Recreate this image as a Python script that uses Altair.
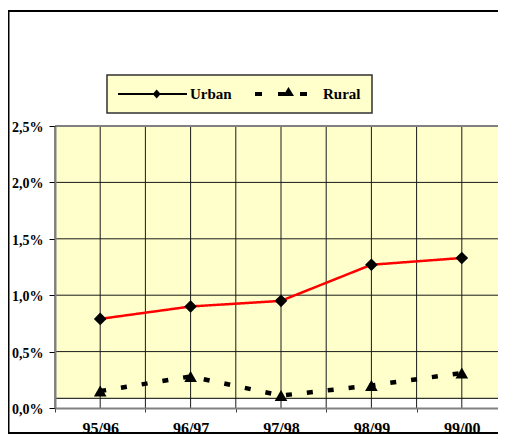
import altair as alt
import pandas as pd

# ---- data ----
periods = ["95/96", "96/97", "97/98", "98/99", "99/00"]
urban = [0.0079, 0.0090, 0.0095, 0.0127, 0.0133]
rural = [0.0015, 0.0028, 0.0011, 0.0020, 0.0031]
series_names = ["Urban", "Rural"]
y_ticks = [0.0, 0.005, 0.010, 0.015, 0.020, 0.025]

df = pd.DataFrame({
    "period": periods * 2,
    "series": [series_names[0]] * len(periods) + [series_names[1]] * len(periods),
    "value": urban + rural,
})
grid_df = pd.DataFrame({"v": y_ticks[1:-1]})
cat_df = pd.DataFrame({"period": periods})

Y_MAX = y_ticks[-1]
FLOOR = 0.00086  # bottom edge of the yellow plot area (Excel artefact)
band_df = pd.DataFrame({"lo": [FLOOR], "hi": [Y_MAX]})
one_df = pd.DataFrame({"a": [0]})

YELLOW = "#FFFFCC"
FONT = "Liberation Serif"
GRID = "#1a1a1a"
PLOT_W, PLOT_H = 443, 282

x_scale = alt.Scale(type="band", domain=periods, range=[0, 452],
                    paddingInner=0, paddingOuter=0)
y_scale = alt.Scale(domain=[0, Y_MAX], nice=False, zero=True)

x_axis = alt.Axis(title=None, tickBand="extent", grid=False,
                  domainColor="#808080", domainWidth=2,
                  tickColor="#404040", tickSize=4, tickWidth=1,
                  labelFont=FONT, labelFontWeight="bold", labelFontSize=16,
                  labelColor="black", labelPadding=8, labelAngle=0, zindex=1)
y_axis = alt.Axis(title=None, values=y_ticks, grid=False,
                  labelExpr="replace(format(datum.value, '.1%'), '.', ',')",
                  domainColor="#808080", domainWidth=2,
                  tickColor="black", tickSize=6, tickWidth=1,
                  labelFont=FONT, labelFontWeight="bold", labelFontSize=14,
                  labelColor="black", labelPadding=6, labelOffset=1.5, zindex=1)

X = lambda **kw: alt.X("period:N", scale=x_scale, axis=x_axis, sort=periods, **kw)

# chart-area frame (decoration) as thin filled bars: left, top, bottom edges
frame_style = dict(color="black", strokeWidth=0, filled=True)
frame_left = alt.Chart(one_df).mark_rect(**frame_style).encode(
    x=alt.value(-47.5), x2=alt.value(-45.5), y=alt.value(-116), y2=alt.value(308))
frame_top = alt.Chart(one_df).mark_rect(**frame_style).encode(
    x=alt.value(-47.5), x2=alt.value(PLOT_W), y=alt.value(-116), y2=alt.value(-114))
frame_bottom = alt.Chart(one_df).mark_rect(**frame_style).encode(
    x=alt.value(-47.5), x2=alt.value(PLOT_W), y=alt.value(306), y2=alt.value(308))

plot_bg = alt.Chart(band_df).mark_rect(color=YELLOW).encode(
    y=alt.Y("lo:Q", scale=y_scale, axis=y_axis), y2="hi:Q"
)
floor_rule = alt.Chart(band_df).mark_rule(color="black", strokeWidth=1).encode(
    y=alt.Y("lo:Q", scale=y_scale, axis=y_axis)
)
top_rule = alt.Chart(band_df).mark_rule(color="#808080", strokeWidth=2).encode(
    y=alt.Y("hi:Q", scale=y_scale, axis=y_axis)
)
h_grid = alt.Chart(grid_df).mark_rule(color=GRID, strokeWidth=1).encode(
    y=alt.Y("v:Q", scale=y_scale, axis=y_axis)
)
v_grid_c = alt.Chart(cat_df).mark_rule(color=GRID, strokeWidth=1).encode(x=X())
v_grid_e = alt.Chart(cat_df).mark_rule(color=GRID, strokeWidth=1).encode(x=X(bandPosition=0))

lines = alt.Chart(df).mark_line(strokeCap="butt").encode(
    x=X(),
    y=alt.Y("value:Q", scale=y_scale, axis=y_axis),
    color=alt.Color("series:N", scale=alt.Scale(domain=series_names, range=["#FF0000", "black"]), legend=None),
    strokeDash=alt.StrokeDash("series:N", scale=alt.Scale(domain=series_names, range=[[1, 0], [6, 15]]), legend=None),
    strokeWidth=alt.StrokeWidth("series:N", scale=alt.Scale(domain=series_names, range=[2.5, 4.5]), legend=None),
)

points = alt.Chart(df).mark_point(filled=True, color="black", size=160, opacity=1).encode(
    x=X(),
    y=alt.Y("value:Q", scale=y_scale, axis=y_axis),
    shape=alt.Shape("series:N", scale=alt.Scale(domain=series_names, range=["diamond", "triangle-up"]), legend=None),
)

# legend symbols: line + marker, in units of 8 px around the symbol centre
urban_sym = "M-4.625,-0.125H4V0.125H-4.625Z M0.21,-0.56L0.71,0L0.21,0.56L-0.29,0Z"
rural_sym = ("M-4.125,-0.25H-3.25V0.25H-4.125Z M-1.25,-0.25H-0.375V0.25H-1.25Z "
             "M0.06,-0.875L0.75,0.25H-0.625Z M1.5,-0.25H2.375V0.25H1.5Z")

legend_layer = alt.Chart(df).mark_point(filled=True, color="black", opacity=0).encode(
    x=X(),
    y=alt.Y("value:Q", scale=y_scale, axis=y_axis),
    shape=alt.Shape(
        "series:N",
        scale=alt.Scale(domain=series_names, range=[urban_sym, rural_sym]),
        legend=alt.Legend(
            title=None, orient="none", legendX=52, legendY=-51, direction="horizontal",
            fillColor=YELLOW, strokeColor="#303030", padding=11,
            symbolSize=256, symbolStrokeWidth=0, symbolFillColor="black", symbolOpacity=1,
            symbolOffset=29,
            labelFont=FONT, labelFontWeight="bold", labelFontSize=15, labelColor="black",
            labelOffset=27, columnPadding=19,
        ),
    ),
)

chart = alt.layer(
    frame_left, frame_top, frame_bottom, plot_bg, floor_rule, h_grid, v_grid_c, v_grid_e,
    top_rule, lines, points, legend_layer
).resolve_scale(shape="independent").properties(
    width=PLOT_W, height=PLOT_H,
    autosize=alt.AutoSizeParams(type="none"),
    padding={"left": 47, "top": 118, "right": 0, "bottom": 28},
).configure_view(strokeWidth=0).configure_legend(strokeWidth=1.5)

chart.save("out.html", embed_options={"renderer": "svg", "actions": False})
